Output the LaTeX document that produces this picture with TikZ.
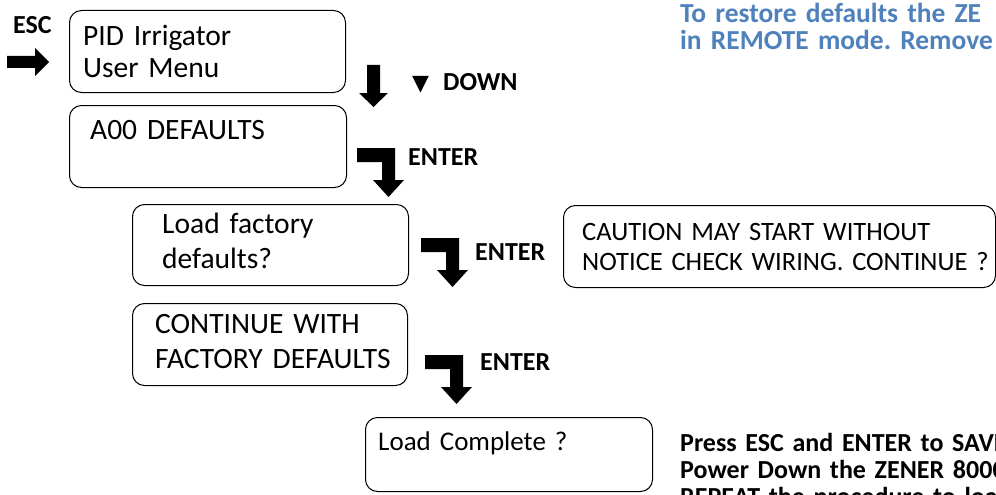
\documentclass[tikz,border=0pt]{standalone}
\usepackage{fontspec}
\setmainfont{Carlito}
\newfontfamily\symbolfont{DejaVu Sans}
\frenchspacing
\usetikzlibrary{calc,positioning}
\definecolor{noteblue}{HTML}{4F81BD}
\tikzset{
menu box/.style={draw,rounded corners=12pt,line width=1pt,anchor=north west,inner sep=0pt},
menu text/.style={anchor=base west,inner sep=0pt,align=left,text width=420pt,font=\fontsize{29.5}{31}\selectfont},
key text/.style={anchor=base west,inner sep=0pt,font=\bfseries\fontsize{26}{28}\selectfont},
note text/.style={anchor=base west,inner sep=0pt,align=left,text width=420pt,font=\bfseries\fontsize{26}{27}\selectfont},
enter arrow/.pic={\fill (0,0) -- (38,0) -- (38,32) -- (47,32) -- (31.5,49) -- (16,32) -- (25,32) -- (25,14) -- (0,14) -- cycle;},
down arrow/.pic={\fill (-6.5,0) -- (6.5,0) -- (6.5,28) -- (14.5,28) -- (0,42) -- (-14.5,28) -- (-6.5,28) -- cycle;},
right arrow/.pic={\fill (0,-6) -- (28,-6) -- (28,-14) -- (42,0) -- (28,14) -- (28,6) -- (0,6) -- cycle;}
}

\begin{document}
\begin{tikzpicture}[x=1pt,y=-1pt]
\useasboundingbox (0,0) rectangle (996,495);

% menu screens
\node[menu box,minimum width=276pt,minimum height=82pt] (menu) at (69,10) {};
\node[menu box,minimum width=277pt,minimum height=82pt] (defaults) at (69,105) {};
\node[menu box,minimum width=276pt,minimum height=81pt] (factory) at (132,204) {};
\node[menu box,minimum width=275pt,minimum height=82pt] (continue) at (132,303) {};
\node[menu box,minimum width=287pt,minimum height=74pt] (complete) at (365,417) {};
\node[menu box,minimum width=432pt,minimum height=82pt] (caution) at (563,205) {};

\node[menu text] (menu text) at ($(menu.north west)+(14,36)$) {PID Irrigator\\[1pt]User Menu};
\node[menu text] (defaults text) at ($(defaults.north west)+(21,34)$) {A00 DEFAULTS};
\node[menu text] (factory text) at ($(factory.north west)+(30,29)$) {Load factory\\[4pt]defaults?};
\node[menu text] (continue text) at ($(continue.north west)+(23,30)$) {CONTINUE WITH\\[4pt]FACTORY DEFAULTS};
\node[menu text,font=\fontsize{27}{30}\selectfont] (complete text) at ($(complete.north west)+(13,33)$) {Load Complete ?};
\node[menu text,font=\fontsize{26.5}{30}\selectfont] (caution text) at ($(caution.north west)+(19,35)$) {CAUTION MAY START WITHOUT\\NOTICE CHECK WIRING. CONTINUE ?};

% keys
\pic at (7,62) {right arrow};
\node[key text] (esc) at (13,34) {ESC};
\pic at (373.5,65) {down arrow};
\node[key text] (down) at (412,90) {{\symbolfont\fontsize{22}{24}\selectfont ▼}\hspace{14pt}DOWN};
\pic at (357,148) {enter arrow};
\node[key text] (enter a) at (408,165) {ENTER};
\pic at (421,238) {enter arrow};
\node[key text] (enter b) at (475,260) {ENTER};
\pic at (425,355) {enter arrow};
\node[key text] (enter c) at (480,370) {ENTER};

% notes
\node[note text,text=noteblue,font=\bfseries\fontsize{27.5}{26.5}\selectfont] (restore) at (680,23) {To restore defaults the ZE\\in REMOTE mode. Remove};
\node[note text] (save) at (680,451) {Press ESC and ENTER to SAVE\\Power Down the ZENER 8000\\REPEAT the procedure to load};

\end{tikzpicture}
\end{document}
